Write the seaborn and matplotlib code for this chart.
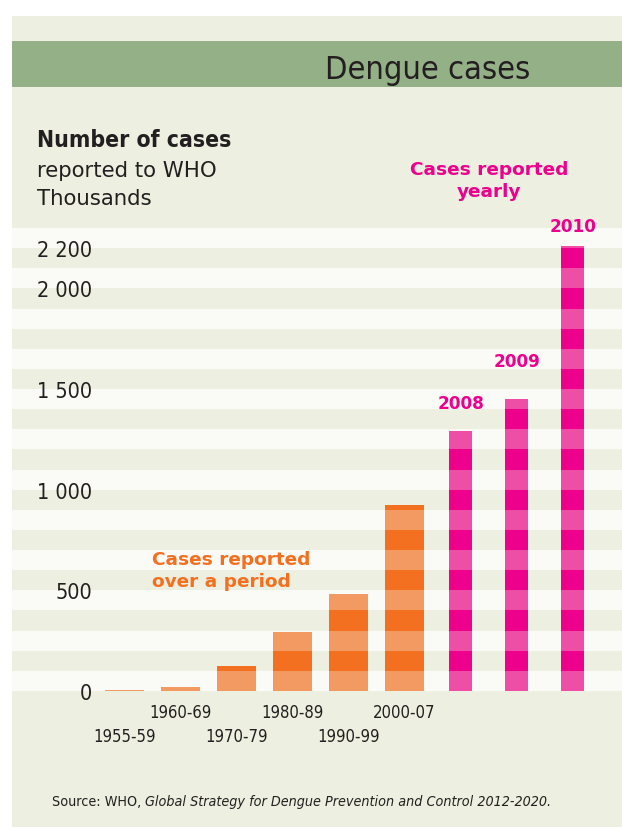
import matplotlib
matplotlib.use("Agg")
import matplotlib.pyplot as plt
from matplotlib.patches import Rectangle
import seaborn as sns
import pandas as pd

# Dengue cases reported to WHO, thousands
periods = ["1955-59", "1960-69", "1970-79", "1980-89", "1990-99", "2000-07"]
period_cases = [5, 18, 122, 295, 480, 926]
years = ["2008", "2009", "2010"]
year_cases = [1290, 1450, 2210]
y_ticks = [0, 500, 1000, 1500, 2000, 2200]
y_tick_labels = ["0", "500", "1 000", "1 500", "2 000", "2 200"]

categories = periods + years

sns.set_style("white")
plt.rcParams["font.family"] = ["DejaVu Sans"]

PANEL = "#edf0e0"
STRIPE = "#fafaf7"
TITLE_BAR = "#94b087"
INK = "#231f20"
ORANGE_DARK, ORANGE_LIGHT = "#f37021", "#f39a62"
PINK_DARK, PINK_LIGHT = "#ec008c", "#ef4ea6"

W, H = 622, 828
fig = plt.figure(figsize=(W / 100, H / 100), dpi=100)
fig.patch.set_facecolor("white")

# panel background and title band
fig.add_artist(Rectangle((12 / W, 0), 1 - 12 / W, (H - 17) / H,
                         transform=fig.transFigure, facecolor=PANEL,
                         edgecolor="none", zorder=-10))
fig.add_artist(Rectangle((12 / W, (H - 88) / H), 1 - 12 / W, 46 / H,
                         transform=fig.transFigure, facecolor=TITLE_BAR,
                         edgecolor="none", zorder=-9))

ax = fig.add_axes([12 / W, (H - 692) / H, 610 / W, 463 / H])
ax.set_facecolor("none")

# alternating horizontal bands every 100 thousand
for lo in range(0, 2300, 200):
    ax.axhspan(lo, lo + 100, color=STRIPE, lw=0, zorder=0)

df_period = pd.DataFrame({"label": periods, "cases": period_cases})
df_year = pd.DataFrame({"label": years, "cases": year_cases})

sns.barplot(data=df_period, x="label", y="cases", order=categories,
            color=ORANGE_LIGHT, saturation=1, width=0.70, errorbar=None,
            linewidth=0, ax=ax, zorder=2)
n_period = len(ax.patches)
sns.barplot(data=df_year, x="label", y="cases", order=categories,
            color=PINK_LIGHT, saturation=1, width=0.41, errorbar=None,
            linewidth=0, ax=ax, zorder=2)

# darker segments where bars cross the shaded bands
for i, bar in enumerate(list(ax.patches)):
    h = bar.get_height()
    if not h or h != h:
        continue
    dark = ORANGE_DARK if i < n_period else PINK_DARK
    for lo in range(100, 2300, 200):
        seg = ax.axhspan(lo, lo + 100, color=dark, lw=0, zorder=2.5)
        seg.set_clip_path(bar)

ax.set_xlim(-2.011, 8.882)
ax.set_ylim(0, 2300)
for s in ax.spines.values():
    s.set_visible(False)

ax.set_xlabel("")
ax.set_ylabel("")

# y ticks drawn inside the plotting area
ax.set_yticks(y_ticks)
ax.set_yticklabels(y_tick_labels)
ax.tick_params(axis="y", length=0, pad=-57.6, labelsize=15.5, labelcolor=INK)
for t in ax.get_yticklabels():
    t.set_fontstretch("condensed")

# staggered period labels: odd periods on the upper row, even on the lower
upper = [i for i in range(len(periods)) if i % 2 == 1]
lower = [i for i in range(len(periods)) if i % 2 == 0]
ax.set_xticks(upper, [periods[i] for i in upper])
ax.set_xticks(lower, [periods[i] for i in lower], minor=True)
ax.tick_params(axis="x", which="major", length=0, pad=8.4,
               labelsize=12, labelcolor=INK)
ax.tick_params(axis="x", which="minor", length=0, pad=25.7,
               labelsize=12, labelcolor=INK)
for t in ax.get_xticklabels(which="both"):
    t.set_fontstretch("condensed")

# year labels above yearly bars
label_heights = [1406, 1614, 2285]
for j, (yr, yh) in enumerate(zip(years, label_heights)):
    ax.text(len(periods) + j, yh, yr, ha="center", va="baseline",
            color=PINK_DARK, fontsize=12.2, fontweight="bold")

# titles and annotations
fig.text(325 / W, (H - 79) / H, "Dengue cases", fontsize=23.4,
         fontstretch="condensed", color=INK, va="baseline")
fig.text(37 / W, (H - 147) / H, "Number of cases", fontsize=16.5,
         fontweight="bold", fontstretch="condensed", color=INK, va="baseline")
fig.text(37 / W, (H - 177) / H, "reported to WHO", fontsize=15.3,
         color=INK, va="baseline")
fig.text(37 / W, (H - 205) / H, "Thousands", fontsize=15.3,
         color=INK, va="baseline")

fig.text(489 / W, (H - 175) / H, "Cases reported", fontsize=13.3,
         fontweight="bold", color=PINK_DARK, ha="center", va="baseline")
fig.text(489 / W, (H - 197) / H, "yearly", fontsize=13.3,
         fontweight="bold", color=PINK_DARK, ha="center", va="baseline")

fig.text(152 / W, (H - 565) / H, "Cases reported", fontsize=13.3,
         fontweight="bold", color=ORANGE_DARK, va="baseline")
fig.text(152 / W, (H - 587) / H, "over a period", fontsize=13.3,
         fontweight="bold", color=ORANGE_DARK, va="baseline")

# source line: plain prefix followed by italic title
renderer = fig.canvas.get_renderer()
src1 = fig.text(52 / W, (H - 806) / H, "Source: WHO, ", fontsize=10.3,
                fontstretch="condensed", color=INK, va="baseline")
bb = src1.get_window_extent(renderer=renderer)
fig.text(bb.x1 / W, (H - 806) / H,
         "Global Strategy for Dengue Prevention and Control 2012-2020.",
         fontsize=10.3, fontstretch="condensed", fontstyle="italic",
         color=INK, va="baseline")

fig.savefig("out.png", dpi=100, facecolor=fig.get_facecolor())
